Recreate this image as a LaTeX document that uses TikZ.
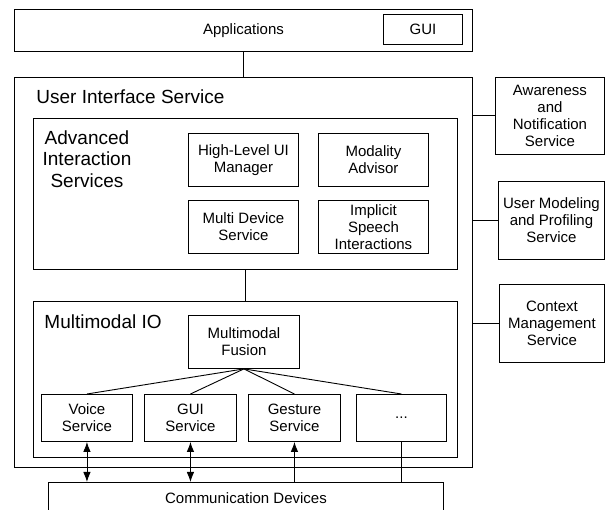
\documentclass[tikz,border=0pt]{standalone}
\usepackage{fontspec}
\setmainfont{Liberation Sans}
\usetikzlibrary{arrows.meta}
\newcommand{\boxat}[6]{%
\node[box,minimum width=#4pt,minimum height=#5pt] (#1) at (#2,#3) {#6};
}

\begin{document}
\begin{tikzpicture}[x=1pt,y=-1pt,line width=0.9pt,
  box/.style={draw,anchor=north west,align=center,inner sep=1pt,
    font=\fontsize{15}{17}\selectfont},
  heading/.style={inner sep=0pt,align=center,font=\fontsize{19}{21.7}\selectfont},
  tip/.style={-{Latex[length=10pt,width=7.5pt]}},
  bothtip/.style={{Latex[length=10pt,width=7.5pt]}-{Latex[length=10pt,width=7.5pt]}}]

\useasboundingbox (0,0) rectangle (606,510);
\clip (0,0) rectangle (606,510);

% applications
\boxat{app}{14}{9}{458}{42}{Applications}
\boxat{appgui}{383}{14}{79}{30}{GUI}

% user interface service
\boxat{uis}{14}{77}{458}{390}{}
\node[heading,anchor=west] (uistitle) at (36,97) {User Interface Service};

\boxat{ais}{33}{118}{424}{151}{}
\node[heading] (aistitle) at (87,159) {Advanced\\Interaction\\Services};
\boxat{hlm}{188}{133}{110}{53}{High-Level UI\\Manager}
\boxat{mad}{318}{133}{110}{53}{Modality\\Advisor}
\boxat{mds}{188}{200}{110}{53}{Multi Device\\Service}
\boxat{isi}{318}{200}{110}{53}{Implicit\\Speech\\Interactions}

\boxat{mio}{33}{301}{424}{156}{}
\node[heading,anchor=west] (miotitle) at (44,322) {Multimodal IO};
\boxat{fus}{188}{315}{111}{53}{Multimodal\\Fusion}
\boxat{voice}{41}{394}{91}{47}{Voice\\Service}
\boxat{guisvc}{144}{394}{92}{47}{GUI\\Service}
\boxat{gest}{248}{394}{92}{47}{Gesture\\Service}
\boxat{more}{356}{394}{90}{47}{...}

% devices
\boxat{comm}{48}{482}{395}{32}{Communication Devices}

% side services
\boxat{awn}{495}{77}{109}{77}{Awareness\\and\\Notification\\Service}
\boxat{ump}{498}{181}{106}{78}{User Modeling\\and Profiling\\Service}
\boxat{cms}{499}{284}{105}{78}{Context\\Management\\Service}

\draw (app.south) -- (uis.north);
\draw (ais.south) -- (mio.north);

\draw (awn.west) -- (awn.west -| uis.east);
\draw (ump.west) -- (ump.west -| uis.east);
\draw (cms.west) -- (cms.west -| uis.east);

\draw (fus.south) -- (voice.north);
\draw (fus.south) -- (guisvc.north);
\draw (fus.south) -- (gest.north);
\draw (fus.south) -- (more.north);

\draw[bothtip] (voice.south) -- (voice.south |- comm.north);
\draw[bothtip] (guisvc.south) -- (guisvc.south |- comm.north);
\draw[tip] (gest.south |- comm.north) -- (gest.south);
\draw (more.south) -- (more.south |- comm.north);

\end{tikzpicture}
\end{document}
